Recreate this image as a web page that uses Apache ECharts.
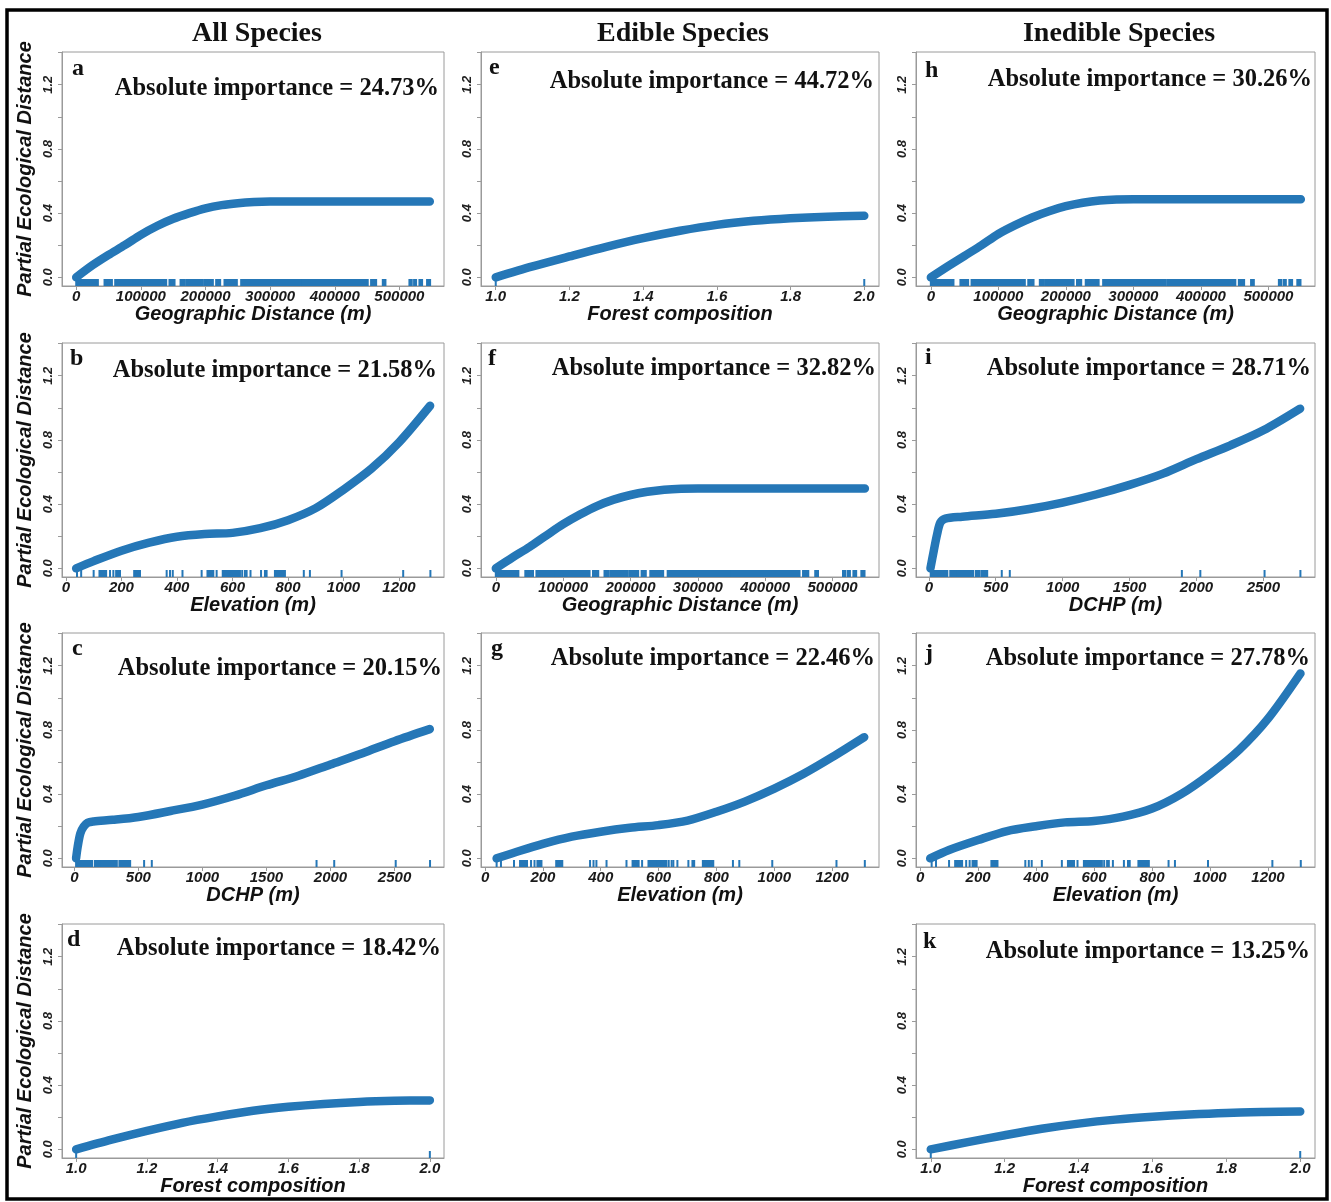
<!DOCTYPE html>
<html><head><meta charset="utf-8">
<script src="https://cdn.jsdelivr.net/npm/echarts@6/dist/echarts.min.js"></script>
<style>html,body{margin:0;padding:0;background:#fff}#c{width:1331px;height:1202px}</style>
</head><body><div id="c"></div>
<script>
// ---------------- DATA ----------------
const columnTitles = ['All Species', 'Edible Species', 'Inedible Species'];
const panelLetters = ['a','b','c','d','e','f','g','h','i','j','k'];
const importance = ['24.73%','21.58%','20.15%','18.42%','44.72%','32.82%','22.46%','30.26%','28.71%','27.78%','13.25%'];

const geoTicks = [0,100000,200000,300000,400000,500000];
const elevTicks = [0,200,400,600,800,1000,1200];
const dchpTicks = [0,500,1000,1500,2000,2500];
const forestTicks = [1.0,1.2,1.4,1.6,1.8,2.0];
const yTicks = [0,0.2,0.4,0.6,0.8,1.0,1.2,1.4];
const yLabelTicks = [0,0.4,0.8,1.2];

// rug marks: [start, end] of observed predictor values (single tick when start == end)
const geoRug = [[0,33500],[43800,47900],[50000,55200],[60300,87600],[89200,139200],[144300,152100],[161400,167500],[170100,195900],[198500,211400],[216500,222700],[229400,248500],[255200,348000],[350500,451000],[456200,464000],[474300,478400],[515500,519100],[522700,525800],[531000,535100],[542800,547500]];
const elevRug = [[40,40],[55,55],[100,100],[121,145],[159,159],[171,171],[181,195],[246,267],[363,363],[375,375],[385,385],[420,420],[489,489],[510,531],[543,543],[565,591],[595,627],[635,635],[645,645],[651,651],[665,665],[703,703],[717,723],[753,789],[857,857],[879,879],[993,993],[1215,1215],[1313,1313]];
const dchpRug = [[14,138],[160,205],[215,332],[352,380],[396,436],[545,545],[605,605],[1891,1891],[2029,2029],[2509,2509],[2777,2777]];
const forestRug = [[1,1],[2,2]];

// partial ecological distance curves [x, y]
const curveA = [[0,0],[25000,0.075],[50000,0.14],[75000,0.2],[100000,0.265],[125000,0.32],[150000,0.365],[175000,0.4],[200000,0.43],[225000,0.45],[250000,0.462],[275000,0.469],[300000,0.472],[400000,0.472],[500000,0.472],[547000,0.472]];
const curveB = [[37,0],[100,0.045],[200,0.11],[300,0.16],[400,0.197],[500,0.214],[600,0.221],[700,0.25],[800,0.3],[900,0.375],[1000,0.49],[1100,0.62],[1200,0.785],[1312,1.013]];
const curveC = [[14,0],[26,0.07],[47,0.155],[73,0.197],[104,0.222],[150,0.23],[300,0.24],[500,0.258],[750,0.295],[1000,0.335],[1250,0.39],[1500,0.455],[1750,0.515],[2000,0.585],[2250,0.655],[2500,0.73],[2775,0.805]];
const curveD = [[1.0,0],[1.1,0.06],[1.2,0.115],[1.3,0.165],[1.4,0.205],[1.5,0.24],[1.6,0.265],[1.7,0.283],[1.8,0.295],[1.9,0.302],[2.0,0.305]];
const curveE = [[1.0,0],[1.1,0.068],[1.2,0.13],[1.3,0.19],[1.4,0.244],[1.5,0.29],[1.6,0.327],[1.7,0.352],[1.8,0.368],[1.9,0.378],[2.0,0.383]];
const curveF = [[0,0],[25000,0.068],[50000,0.133],[75000,0.205],[100000,0.275],[125000,0.335],[150000,0.388],[175000,0.428],[200000,0.457],[225000,0.477],[250000,0.49],[275000,0.496],[300000,0.497],[400000,0.497],[500000,0.497],[548000,0.497]];
const curveG = [[40,0],[100,0.035],[200,0.09],[300,0.135],[400,0.166],[500,0.19],[600,0.207],[700,0.235],[800,0.29],[900,0.355],[1000,0.434],[1100,0.525],[1200,0.63],[1311,0.755]];
const curveH = [[0,0],[25000,0.068],[50000,0.134],[75000,0.2],[100000,0.27],[125000,0.325],[150000,0.373],[175000,0.412],[200000,0.443],[225000,0.465],[250000,0.479],[275000,0.485],[300000,0.486],[400000,0.486],[500000,0.486],[548000,0.486]];
const curveI = [[12,0],[37,0.11],[62,0.213],[86,0.285],[123,0.31],[250,0.322],[500,0.34],[750,0.37],[1000,0.41],[1250,0.46],[1500,0.52],[1750,0.59],[2000,0.68],[2250,0.765],[2500,0.86],[2775,0.995]];
const curveJ = [[35,0],[100,0.052],[200,0.114],[300,0.17],[400,0.2],[500,0.224],[600,0.233],[700,0.26],[800,0.31],[900,0.4],[1000,0.525],[1100,0.675],[1200,0.87],[1312,1.152]];
const curveK = [[1.0,0],[1.1,0.045],[1.2,0.088],[1.3,0.128],[1.4,0.16],[1.5,0.185],[1.6,0.203],[1.7,0.217],[1.8,0.227],[1.9,0.232],[2.0,0.235]];

// ---------------- LAYOUT / STYLE ----------------
const BLUE = '#2577b7';
const GRAY = '#9a9a9a';
const SANS = 'Liberation Sans';
const SERIF = 'Liberation Serif';
const colLeft = [62, 481, 916];
const colWidth = [382, 398, 399];
const rowTop = [52, 343, 633, 924];
const H = 234;

const axes = {
  geo:   {min:-22000, max:569000, ticks:geoTicks, name:'Geographic Distance (m)', rug:geoRug, fmt:v=>String(v)},
  elev:  {min:-14, max:1362, ticks:elevTicks, name:'Elevation (m)', rug:elevRug, fmt:v=>String(v)},
  dchp:  {min:-96, max:2886, ticks:dchpTicks, name:'DCHP (m)', rug:dchpRug, fmt:v=>String(v)},
  forest:{min:0.96, max:2.04, ticks:forestTicks, name:'Forest composition', rug:forestRug, fmt:v=>v.toFixed(1)}
};

const panels = [
  {col:0,row:0,axis:'geo',   curve:curveA, letter:[72,77],  imp:[439,97]},
  {col:0,row:1,axis:'elev',  curve:curveB, letter:[70,367], imp:[437,379]},
  {col:0,row:2,axis:'dchp',  curve:curveC, letter:[72,657], imp:[442,677]},
  {col:0,row:3,axis:'forest',curve:curveD, letter:[67,948], imp:[441,957]},
  {col:1,row:0,axis:'forest',curve:curveE, letter:[489,76], imp:[874,90]},
  {col:1,row:1,axis:'geo',   curve:curveF, letter:[488,367],imp:[876,377]},
  {col:1,row:2,axis:'elev',  curve:curveG, letter:[491,657],imp:[875,667]},
  {col:2,row:0,axis:'geo',   curve:curveH, letter:[925,79], imp:[1312,88]},
  {col:2,row:1,axis:'dchp',  curve:curveI, letter:[925,366],imp:[1311,377]},
  {col:2,row:2,axis:'elev',  curve:curveJ, letter:[925,662],imp:[1310,667]},
  {col:2,row:3,axis:'forest',curve:curveK, letter:[923,950],imp:[1310,960]}
];

function rugRender(params, api) {
  const cs = params.coordSys;
  const a = api.coord([api.value(0), 0])[0];
  const b = api.coord([api.value(1), 0])[0];
  const bottom = cs.y + cs.height;
  return {type:'rect', shape:{x:a-1, y:bottom-7, width:(b-a)+2, height:7}, style:{fill:BLUE}};
}

const grid = [], xAxis = [], yAxis = [], series = [], graphic = [];

panels.forEach((p, i) => {
  const ax = axes[p.axis];
  grid.push({left:colLeft[p.col], top:rowTop[p.row], width:colWidth[p.col], height:H,
    show:true, borderColor:GRAY, borderWidth:1, containLabel:false});
  xAxis.push({type:'value', gridIndex:i, min:ax.min, max:ax.max,
    axisLine:{show:true, onZero:false, lineStyle:{color:GRAY, width:1}},
    axisTick:{show:true, customValues:ax.ticks, length:4, lineStyle:{color:GRAY}},
    axisLabel:{customValues:ax.ticks, formatter:ax.fmt, margin:3, color:'#1a1a1a',
      fontFamily:SANS, fontSize:15, fontWeight:'bold', fontStyle:'italic'},
    splitLine:{show:false},
    name:ax.name, nameLocation:'middle', nameGap:18,
    nameTextStyle:{fontFamily:SANS, fontSize:20, fontWeight:'bold', fontStyle:'italic', color:'#111'}
  });
  yAxis.push({type:'value', gridIndex:i, min:-0.054, max:1.404,
    axisLine:{show:true, onZero:false, lineStyle:{color:GRAY, width:1}},
    axisTick:{show:true, customValues:yTicks, length:4, lineStyle:{color:GRAY}},
    axisLabel:{customValues:yLabelTicks, formatter:v=>v.toFixed(1), rotate:90, margin:7, color:'#222',
      fontFamily:SANS, fontSize:13, fontWeight:'bold', fontStyle:'italic'},
    splitLine:{show:false},
    name: p.col === 0 ? 'Partial Ecological Distance' : '',
    nameLocation:'middle', nameGap:27,
    nameTextStyle:{fontFamily:SANS, fontSize:20, fontWeight:'bold', fontStyle:'italic', color:'#111'}
  });
  series.push({type:'custom', xAxisIndex:i, yAxisIndex:i, silent:true, z:3,
    renderItem:rugRender, encode:{x:[0,1], y:2},
    data: ax.rug.map(r => [r[0], r[1], 0])});
  series.push({type:'line', xAxisIndex:i, yAxisIndex:i, silent:true, z:2,
    data:p.curve, showSymbol:false, symbol:'none', smooth:0.3,
    lineStyle:{color:BLUE, width:8.5, cap:'round', join:'round'}});
  graphic.push({type:'text', silent:true, style:{text:panelLetters[i], x:p.letter[0], y:p.letter[1]-8,
    align:'left', verticalAlign:'middle', font:'bold 24px "' + SERIF + '"', fill:'#111'}});
  graphic.push({type:'text', silent:true, style:{text:'Absolute importance = ' + importance[i], x:p.imp[0], y:p.imp[1]-8,
    align:'right', verticalAlign:'middle', font:'bold 24.5px "' + SERIF + '"', fill:'#111'}});
});

const titleCenters = [257, 683, 1119];
columnTitles.forEach((t, k) => {
  graphic.push({type:'text', silent:true, style:{text:t, x:titleCenters[k], y:34,
    align:'center', verticalAlign:'middle', font:'bold 28px "' + SERIF + '"', fill:'#111'}});
});
graphic.push({type:'rect', silent:true, shape:{x:7, y:10, width:1320, height:1189},
  style:{fill:'none', stroke:'#000', lineWidth:3.5}});

const chart = echarts.init(document.getElementById('c'), null, {renderer:'canvas'});
chart.setOption({animation:false, backgroundColor:'#fff', grid, xAxis, yAxis, series, graphic});
</script>
</body></html>
